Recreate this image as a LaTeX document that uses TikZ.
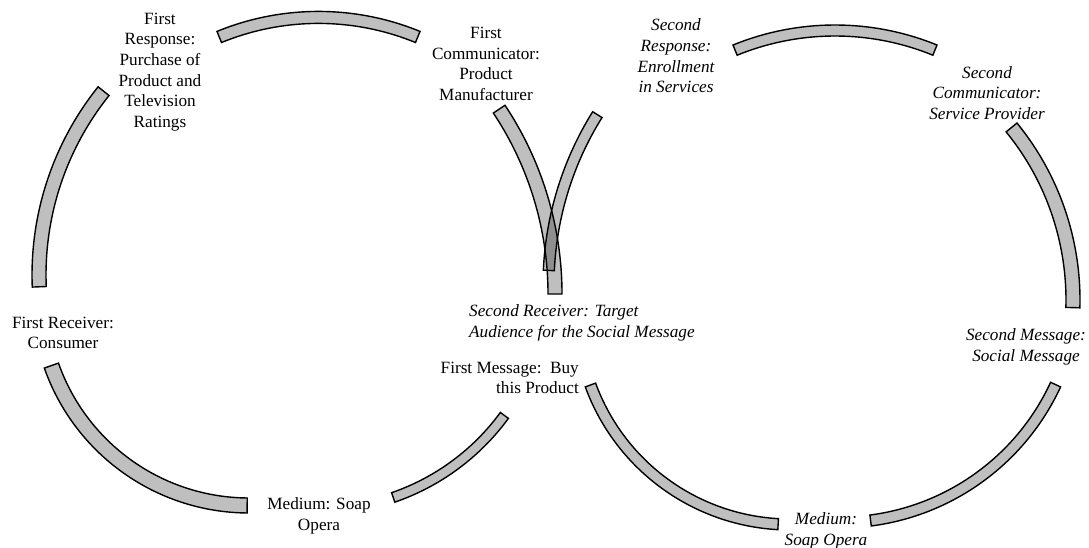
\documentclass[tikz,border=0pt]{standalone}
\usepackage{fontspec}
\setmainfont{Liberation Serif}
\usetikzlibrary{calc}
\tikzset{
  bandstyle/.style={draw=black, line width=1.4pt, fill=black, fill opacity=0.25, draw opacity=1, line join=miter},
  lbl/.style={font=\fontsize{17.2}{20.7}\selectfont, inner sep=0pt, align=center},
  ital/.style={lbl, font=\fontsize{17.2}{20.7}\selectfont\itshape},
}
% #1 cx, #2 cy, #3 outer radius, #4 inner radius, #5 start angle, #6 end angle
\newcommand{\bandarc}[6]{%
  \filldraw[bandstyle] ($(#1,#2)+(#5:#3)$) arc[start angle=#5, end angle=#6, radius=#3]
    -- ($(#1,#2)+(#6:#4)$) arc[start angle=#6, end angle=#5, radius=#4] -- cycle;}
\begin{document}
\begin{tikzpicture}[x=1pt,y=-1pt]
\useasboundingbox (0,0) rectangle (1089,548);
% first cycle
\bandarc{318.5}{279}{267.6}{255.6}{247.7}{292.3}
\bandarc{333}{275}{301}{287}{177.7}{218.7}
\bandarc{249}{296}{217}{202}{90.5}{160.6}
\bandarc{318}{279}{236}{226}{36.2}{71}
\bandarc{221}{294}{341}{327}{-33.6}{0}
% second cycle
\bandarc{870}{285}{327}{316}{182.6}{212}
\bandarc{835}{295}{270}{259}{247.8}{292.2}
\bandarc{800}{300}{280}{266}{-39.2}{1.6}
\bandarc{840}{285}{243}{232}{24.8}{82.6}
\bandarc{790}{312}{218}{207}{93.2}{159.9}
% labels
\node[lbl] (fr) at (160,72) {First\\Response:\\Purchase of\\Product and\\Television\\Ratings};
\node[lbl] (fc) at (486,64) {First\\Communicator:\\Product\\Manufacturer};
\node[ital] (sr) at (676,56) {Second\\Response:\\Enrollment\\in Services};
\node[ital] (sc) at (987,93) {Second\\Communicator:\\Service Provider};
\node[lbl] (frc) at (63,333) {First Receiver:\\Consumer};
\node[lbl] (m1) at (319,516) {Medium: Soap\\Opera};
\node[lbl, align=right, anchor=east] (fm) at (579,378) {First Message:\ \ Buy\\this Product};
\node[ital, align=left, anchor=west] (srv) at (469,323) {Second Receiver: Target\\Audience for the Social Message};
\node[ital] (sm) at (1026,347) {Second Message:\\Social Message};
\node[ital] (m2) at (826,531) {Medium:\\Soap Opera};
\end{tikzpicture}
\end{document}
